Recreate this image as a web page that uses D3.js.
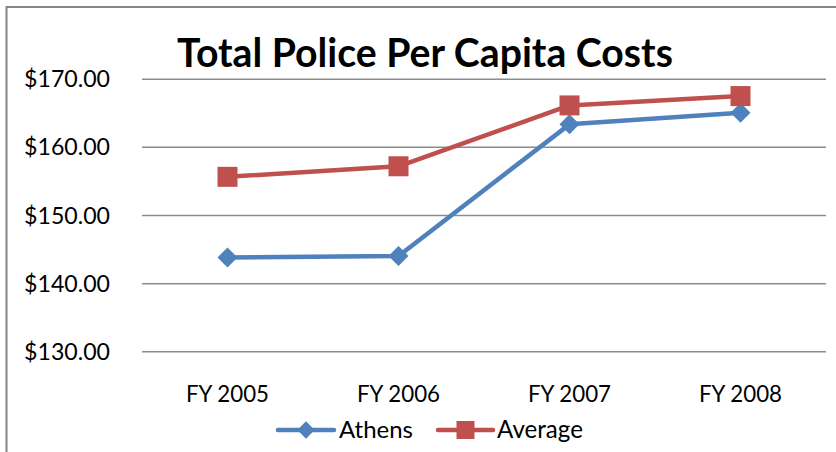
<!DOCTYPE html>
<html>
<head>
<meta charset="utf-8">
<script src="https://cdn.jsdelivr.net/npm/d3@7/dist/d3.min.js"></script>
<style>
  html, body { margin: 0; padding: 0; background: #fff; }
  svg { display: block; }
  text { font-family: Lato, "Open Sans", sans-serif; fill: #000; }
</style>
</head>
<body>
<svg id="chart" width="836" height="452"></svg>
<script>
const categories = ["FY 2005", "FY 2006", "FY 2007", "FY 2008"];
const athens = [143.77, 143.98, 163.30, 165.0];
const average = [155.6, 157.15, 166.08, 167.45];
const seriesNames = ["Athens", "Average"];
const yTicks = [130, 140, 150, 160, 170];
const title = "Total Police Per Capita Costs";

const svg = d3.select("#chart");
const W = 836, H = 452;
const plot = { left: 142, right: 826, top: 78.7, bottom: 351.3 };

const x = d3.scaleBand().domain(categories).range([plot.left, plot.right]).padding(0);
const cx = c => x(c) + x.bandwidth() / 2;
const y = d3.scaleLinear().domain([130, 170]).range([plot.bottom, plot.top]);

const colors = { Athens: "#4F81BD", Average: "#C0504D" };

function fit(sel, target) {
  const base = parseFloat(sel.attr("font-size"));
  const w = sel.node().getComputedTextLength();
  sel.attr("font-size", (base * target / w).toFixed(2));
}

// frame
svg.append("path")
  .attr("d", `M6.5,${H} V7 H${W}`)
  .attr("fill", "none").attr("stroke", "#868686").attr("stroke-width", 2);

// gridlines
const yAxis = d3.axisLeft(y).tickValues(yTicks).tickSize(-(plot.right - plot.left)).tickFormat(d => "$" + d3.format(".2f")(d));
const gy = svg.append("g").attr("transform", `translate(${plot.left},0)`).call(yAxis);
gy.select(".domain").remove();
gy.selectAll(".tick line").attr("stroke", "#8c8c8c").attr("stroke-width", 1.5);
gy.selectAll(".tick text")
  .attr("x", 110 - plot.left).attr("dy", null).attr("y", 8)
  .attr("text-anchor", "end").attr("font-size", 22).attr("font-family", "Lato").attr("fill", "#000");
gy.selectAll(".tick text").each(function() { fit(d3.select(this), 86); });

// x labels
const xAxis = d3.axisBottom(x).tickSize(0).tickPadding(0);
const gx = svg.append("g").attr("transform", `translate(0,${plot.bottom})`).call(xAxis);
gx.select(".domain").remove();
gx.selectAll(".tick text")
  .attr("y", 401.7 - plot.bottom).attr("dy", null)
  .attr("font-size", 22).attr("font-family", "Lato").attr("fill", "#000");
gx.selectAll(".tick text").each(function() { fit(d3.select(this), 83); });

// title
const t = svg.append("text").attr("x", 425).attr("y", 66.7).attr("text-anchor", "middle")
  .attr("font-size", 38).attr("font-weight", "bold").text(title);
fit(t, 496);

// lines
const line = d3.line().x((d, i) => cx(categories[i])).y(d => y(d));
const data = { Athens: athens, Average: average };

seriesNames.forEach(name => {
  svg.append("path").datum(data[name])
    .attr("d", line).attr("fill", "none")
    .attr("stroke", colors[name]).attr("stroke-width", 4.5).attr("stroke-linejoin", "round");
});

const diamond = d3.symbol().type(d3.symbolDiamond2).size(200);
svg.append("g").selectAll("path").data(athens).join("path")
  .attr("d", d3.symbol().type(d3.symbolSquare).size(200))
  .attr("transform", (d, i) => `translate(${cx(categories[i])},${y(d)}) rotate(45)`)
  .attr("fill", colors.Athens);
svg.append("g").selectAll("rect").data(average).join("rect")
  .attr("x", (d, i) => cx(categories[i]) - 10).attr("y", d => y(d) - 10)
  .attr("width", 20).attr("height", 20)
  .attr("fill", colors.Average);

// legend
const legend = [
  { name: "Athens", x1: 278, x2: 334, tx: 339, w: 74 },
  { name: "Average", x1: 438, x2: 493, tx: 497, w: 86 }
];
const lg = svg.append("g");
legend.forEach(l => {
  const ly = 430;
  lg.append("line").attr("x1", l.x1).attr("x2", l.x2).attr("y1", ly).attr("y2", ly)
    .attr("stroke", colors[l.name]).attr("stroke-width", 4.5).attr("stroke-linecap", "round");
  const mx = (l.x1 + l.x2) / 2;
  if (l.name === "Athens") {
    lg.append("path").attr("d", d3.symbol().type(d3.symbolSquare).size(150))
      .attr("transform", `translate(${mx},${ly}) rotate(45)`).attr("fill", colors[l.name]);
  } else {
    lg.append("rect").attr("x", mx - 9).attr("y", ly - 9).attr("width", 18).attr("height", 18)
      .attr("fill", colors[l.name]);
  }
  const tt = lg.append("text").attr("x", l.tx).attr("y", 437.5).attr("font-size", 22).text(l.name);
  fit(tt, l.w);
});
</script>
</body>
</html>
